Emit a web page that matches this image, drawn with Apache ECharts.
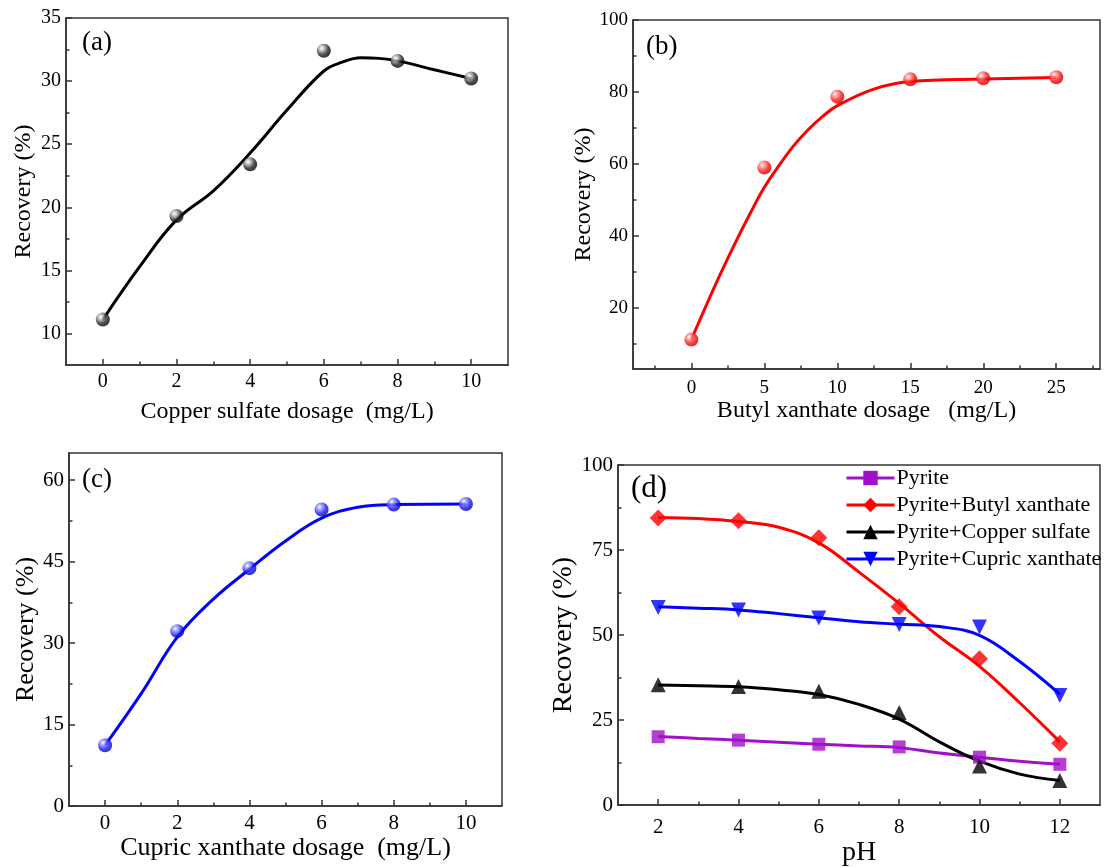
<!DOCTYPE html>
<html>
<head>
<meta charset="utf-8">
<script src="https://cdn.jsdelivr.net/npm/echarts@6/dist/echarts.min.js"></script>
<style>
html,body{margin:0;padding:0;background:#fff;}
#chart{width:1105px;height:868px;}
</style>
</head>
<body>
<div id="chart"></div>
<script>
// ---------- data ----------
// (a) copper sulfate dosage
var aX = [0, 2, 4, 6, 8, 10];
var aY = [11.1, 19.3, 23.4, 32.4, 31.6, 30.2];
var aCurveX = [0, 1, 2, 3, 4, 5, 6, 6.5, 7, 7.5, 8, 9, 10];
var aCurveY = [11.1, 15.3, 19.0, 21.3, 24.3, 27.7, 30.8, 31.5, 31.85, 31.8, 31.6, 30.9, 30.2];
// (b) butyl xanthate dosage
var bX = [0, 5, 10, 15, 20, 25];
var bY = [11.2, 59.0, 78.7, 83.5, 83.8, 84.1];
var bCurveX = [0, 1, 2, 3, 4, 5, 6, 7, 8, 9, 10, 12.5, 15, 20, 25];
var bCurveY = [11.2, 20.5, 29.5, 38.0, 46.0, 53.5, 59.5, 65.0, 69.5, 73.2, 76.2, 80.8, 82.9, 83.6, 84.0];
// (c) cupric xanthate dosage
var cX = [0, 2, 4, 6, 8, 10];
var cY = [11.2, 32.2, 43.8, 54.6, 55.5, 55.6];
var cCurveX = [0, 1, 2, 3, 4, 5, 6, 7, 8, 10];
var cCurveY = [11.2, 20.7, 31.1, 38.1, 43.6, 48.8, 53.0, 55.0, 55.5, 55.6];
// (d) pH
var dX = [2, 4, 6, 8, 10, 12];
var dPyrite = [20.1, 19.1, 17.9, 17.1, 14.1, 12.0];
var dButyl = [84.4, 83.6, 78.6, 58.3, 43.0, 18.2];
var dCopper = [35.4, 34.9, 33.5, 27.2, 11.5, 7.2];
var dCupric = [58.1, 57.4, 55.0, 53.1, 52.4, 32.2];
var dCurveX = [2, 3, 4, 5, 6, 7, 8, 9, 10, 11, 12];
var dPyriteCurve = [20.2, 19.6, 19.1, 18.5, 17.9, 17.4, 16.9, 15.3, 14.1, 12.9, 12.0];
var dButylCurve = [84.6, 84.3, 83.4, 81.7, 77.1, 68.5, 59.3, 49.5, 40.8, 30.1, 18.6];
var dCopperCurve = [35.3, 35.1, 34.8, 33.9, 32.5, 29.6, 25.3, 18.6, 12.9, 9.1, 7.2];
var dCupricCurve = [58.3, 57.9, 57.4, 56.3, 55.1, 53.9, 53.2, 52.5, 49.9, 42.2, 32.6];
var dNames = ['Pyrite', 'Pyrite+Butyl xanthate', 'Pyrite+Copper sulfate', 'Pyrite+Cupric xanthate'];

// tick labels / tick positions
var aXTicks = [0, 2, 4, 6, 8, 10], aXMinor = [1, 3, 5, 7, 9];
var aYTicks = [10, 15, 20, 25, 30, 35], aYMinor = [12.5, 17.5, 22.5, 27.5, 32.5];
var bXTicks = [0, 5, 10, 15, 20, 25], bXMinor = [-2.5, 2.5, 7.5, 12.5, 17.5, 22.5, 27.5];
var bYTicks = [20, 40, 60, 80, 100], bYMinor = [10, 30, 50, 70, 90];
var cXTicks = [0, 2, 4, 6, 8, 10], cXMinor = [1, 3, 5, 7, 9];
var cYTicks = [0, 15, 30, 45, 60], cYMinor = [7.5, 22.5, 37.5, 52.5];
var dXTicks = [2, 4, 6, 8, 10, 12], dXMinor = [3, 5, 7, 9, 11];
var dYTicks = [0, 25, 50, 75, 100], dYMinor = [12.5, 37.5, 62.5, 87.5];

// ---------- helpers ----------
var FONT = '"Liberation Serif", "Times New Roman", serif';
function pairs(xs, ys) { return xs.map(function (x, i) { return [x, ys[i]]; }); }
function sphere(light, mid, dark) {
  return {type: 'radial', x: 0.35, y: 0.32, r: 0.7,
    colorStops: [{offset: 0, color: '#ffffff'}, {offset: 0.22, color: light},
                 {offset: 0.65, color: mid}, {offset: 1, color: dark}]};
}
var grids = [
  {left: 66, top: 18, width: 442, height: 347},
  {left: 633, top: 20, width: 467, height: 349},
  {left: 69, top: 453, width: 433, height: 353},
  {left: 618, top: 465, width: 482, height: 350}
];
grids.forEach(function (g) { g.show = true; g.borderColor = '#333'; g.borderWidth = 1.5; g.backgroundColor = 'transparent'; });

var xAxes = [], yAxes = [];
function addAxes(gi, xr, xt, xm, yr, yt, ym, xName, yName, xGap, yGap, nameSize, tickSize, xMargin) {
  function base() {
    return {gridIndex: gi, type: 'value', splitLine: {show: false}};
  }
  var mainLine = {show: true, onZero: false, lineStyle: {color: '#333', width: 1.5}};
  var noLine = {show: false, onZero: false};
  xAxes.push(Object.assign(base(), {
    min: xr[0], max: xr[1], position: 'bottom', axisLine: mainLine,
    name: xName, nameLocation: 'middle', nameGap: xGap,
    nameTextStyle: {fontFamily: FONT, fontSize: nameSize, color: '#000'},
    axisTick: {show: true, inside: true, length: 6, customValues: xt, lineStyle: {color: '#333', width: 1.5}},
    axisLabel: {customValues: xt, fontFamily: FONT, fontSize: tickSize, color: '#000', margin: xMargin}
  }));
  xAxes.push(Object.assign(base(), {
    min: xr[0], max: xr[1], position: 'bottom', axisLine: noLine,
    axisTick: {show: true, inside: true, length: 3.5, customValues: xm, lineStyle: {color: '#333', width: 1.5}},
    axisLabel: {show: false}
  }));
  yAxes.push(Object.assign(base(), {
    min: yr[0], max: yr[1], position: 'left', axisLine: mainLine,
    name: yName, nameLocation: 'middle', nameGap: yGap, nameRotate: 90,
    nameTextStyle: {fontFamily: FONT, fontSize: nameSize, color: '#000'},
    axisTick: {show: true, inside: true, length: 6, customValues: yt, lineStyle: {color: '#333', width: 1.5}},
    axisLabel: {customValues: yt, fontFamily: FONT, fontSize: tickSize, color: '#000', margin: 5}
  }));
  yAxes.push(Object.assign(base(), {
    min: yr[0], max: yr[1], position: 'left', axisLine: noLine,
    axisTick: {show: true, inside: true, length: 3.5, customValues: ym, lineStyle: {color: '#333', width: 1.5}},
    axisLabel: {show: false}
  }));
}
addAxes(0, [-1, 11], aXTicks, aXMinor, [7.5, 35], aYTicks, aYMinor, 'Copper sulfate dosage  (mg/L)', 'Recovery (%)', 35, 30, 24, 20, 7);
addAxes(1, [-4, 28], bXTicks, bXMinor, [3, 100], bYTicks, bYMinor, 'Butyl xanthate dosage   (mg/L)', 'Recovery (%)', 20, 36, 24, 19, 10);
addAxes(2, [-1, 11], cXTicks, cXMinor, [0, 65], cYTicks, cYMinor, 'Cupric xanthate dosage  (mg/L)', 'Recovery (%)', 28, 27, 26, 21, 7);
addAxes(3, [1, 13], dXTicks, dXMinor, [0, 100], dYTicks, dYMinor, 'pH', 'Recovery (%)', 24, 21, 28, 21, 12);

var series = [];
function curve(gi, name, data, color, extra) {
  series.push(Object.assign({
    type: 'line', name: name, xAxisIndex: gi * 2, yAxisIndex: gi * 2, data: data,
    smooth: 0.4, showSymbol: false, symbol: 'none', z: 2,
    lineStyle: {color: color, width: 3}, itemStyle: {color: color}, silent: true
  }, extra || {}));
}
function points(gi, name, data, symbol, size, fill, extra) {
  series.push(Object.assign({
    type: 'scatter', name: name, xAxisIndex: gi * 2, yAxisIndex: gi * 2, data: data,
    symbol: symbol, symbolSize: size, z: 3, itemStyle: {color: fill}
  }, extra || {}));
}
curve(0, 'a-fit', pairs(aCurveX, aCurveY), '#000');
points(0, 'a-pts', pairs(aX, aY), 'circle', 14, sphere('#c0c0c0', '#262626', '#000'));
curve(1, 'b-fit', pairs(bCurveX, bCurveY), '#ff0000');
points(1, 'b-pts', pairs(bX, bY), 'circle', 14, sphere('#ff9a9a', '#ff1010', '#c00000'));
curve(2, 'c-fit', pairs(cCurveX, cCurveY), '#0000ff');
points(2, 'c-pts', pairs(cX, cY), 'circle', 14, sphere('#a0a0ff', '#1a1aff', '#0000b0'));

var PURPLE = '#a010c8';
curve(3, dNames[0], pairs(dCurveX, dPyriteCurve), PURPLE, {symbol: 'rect'});
curve(3, dNames[1], pairs(dCurveX, dButylCurve), '#ff0000', {symbol: 'diamond'});
curve(3, dNames[2], pairs(dCurveX, dCopperCurve), '#000000', {symbol: 'triangle'});
curve(3, dNames[3], pairs(dCurveX, dCupricCurve), '#0000ff', {symbol: 'triangle', symbolRotate: 180});
points(3, 'd-p0', pairs(dX, dPyrite), 'rect', 13, PURPLE);
points(3, 'd-p1', pairs(dX, dButyl), 'diamond', 17, '#ff0000');
points(3, 'd-p2', pairs(dX, dCopper), 'triangle', 15, '#000000');
points(3, 'd-p3', pairs(dX, dCupric), 'triangle', 15, '#0000ff', {symbolRotate: 180});

var panelLabels = [
  {text: '(a)', left: 82, top: 29, size: 27},
  {text: '(b)', left: 646, top: 33, size: 27},
  {text: '(c)', left: 82, top: 466, size: 27},
  {text: '(d)', left: 631, top: 473, size: 31}
];

var chart = echarts.init(document.getElementById('chart'), null, {renderer: 'canvas'});
chart.setOption({
  backgroundColor: '#fff',
  animation: false,
  grid: grids,
  xAxis: xAxes,
  yAxis: yAxes,
  legend: {
    data: dNames, orient: 'vertical', left: 845, top: 467, padding: 0, itemGap: 5,
    itemWidth: 48, itemHeight: 18, selectedMode: false,
    lineStyle: {width: 3},
    textStyle: {fontFamily: FONT, fontSize: 22, color: '#000', padding: [0, 0, 0, -3]}
  },
  graphic: panelLabels.map(function (p) {
    return {type: 'text', left: p.left, top: p.top, z: 10,
      style: {text: p.text, font: p.size + 'px ' + FONT, fill: '#000'}};
  }),
  series: series
});
</script>
</body>
</html>
